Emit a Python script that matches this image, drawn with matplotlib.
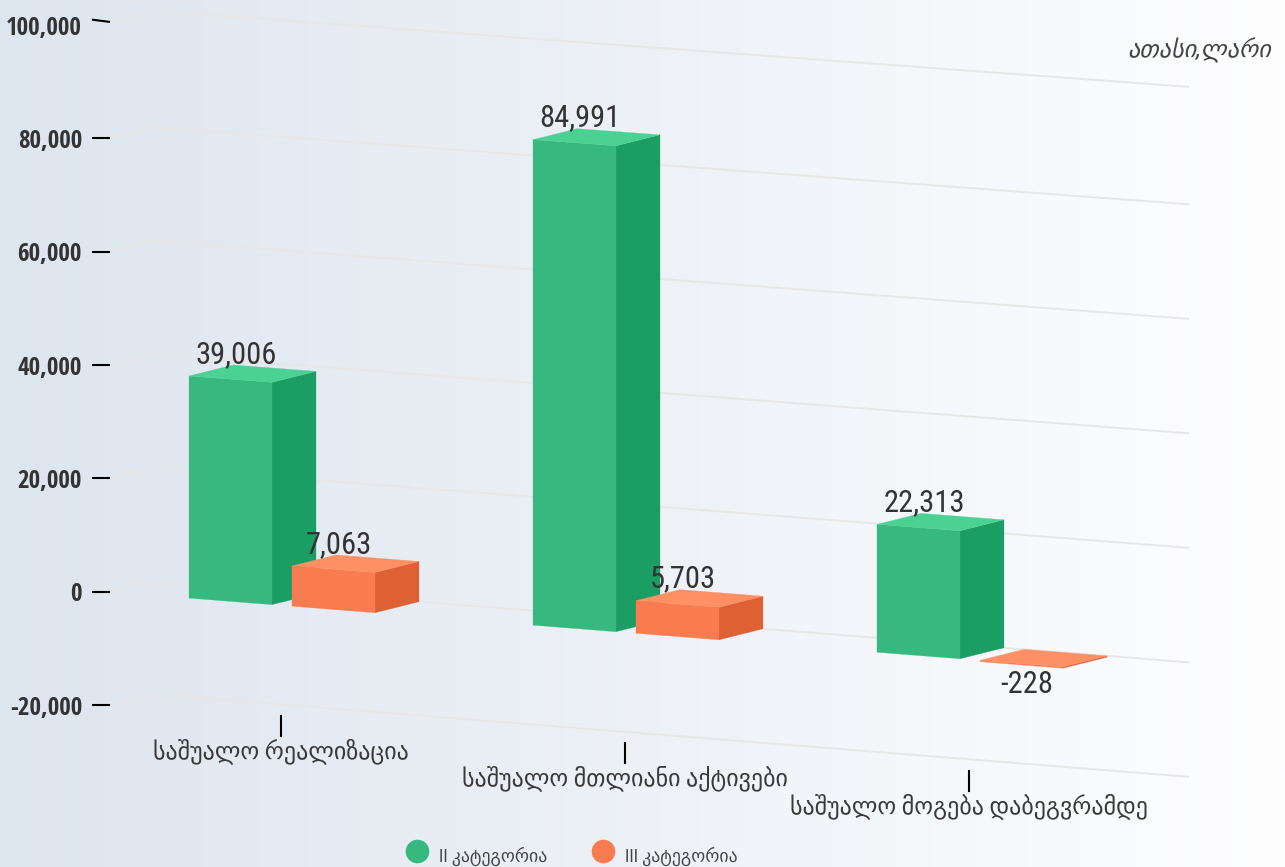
import numpy as np
import matplotlib
matplotlib.use("Agg")
import matplotlib.pyplot as plt
from matplotlib.patches import Polygon
from matplotlib.lines import Line2D
from matplotlib.font_manager import FontProperties

FONT = ['Roboto Condensed', 'Roboto', 'DejaVu Sans']
TICK_FONT = ['Open Sans Condensed', 'Roboto Condensed', 'Roboto', 'DejaVu Sans']
plt.rcParams['font.family'] = FONT

categories = ["საშუალო რეალიზაცია", "საშუალო მთლიანი აქტივები", "საშუალო მოგება დაბეგვრამდე"]
series_names = ["II კატეგორია", "III კატეგორია"]
series_ii = [39006, 84991, 22313]
series_iii = [7063, 5703, -228]
y_ticks = [-20000, 0, 20000, 40000, 60000, 80000, 100000]
unit_label = "ათასი,ლარი"

GREEN = dict(front="#36B87E", side="#1B9E64", top="#4CD194")
ORANGE = dict(front="#F97B50", side="#DE6035", top="#FF9063")

# pseudo-3D projection: u = category position, v = value, d = depth 0..1
X0, BAND, Y0, SCALE, AXIS_SCALE = 109.0, 344.0, 591.8, 5.69e-3, 5.67e-3
DX, DY = 44.0, 11.0


def project(u, v, d=0.0, scale=SCALE):
    x = X0 + BAND * u
    y = Y0 + (x - X0) * (0.0787 - 5.3e-8 * v) - scale * v
    return x + DX * d, y - DY * d


def axis_project(u, v, d=0.0):
    x, y = project(u, v, d, AXIS_SCALE)
    return x, y - 1.5e-4 * max(v - 80000, 0)


fig = plt.figure(figsize=(12.85, 8.67), dpi=100)
ax = fig.add_axes([0, 0, 1, 1])
grad = np.linspace(0, 1, 512)[None, :, None]
c0, c1 = np.array([221, 229, 238]) / 255, np.array([254, 254, 255]) / 255
ax.imshow(c0 + (c1 - c0) * grad, extent=(0, 1285, 867, 0), aspect='auto', zorder=0)
ax.set_xlim(0, 1285)
ax.set_ylim(867, 0)
ax.axis('off')

TXT = "#333333"
for t in y_ticks:
    pts = [axis_project(0, t, 0), axis_project(0, t, 1), axis_project(3.009, t, 1)]
    ax.plot(*zip(*pts), color="#E7E7E7", lw=1.4, zorder=1, solid_joinstyle='round')
    xe, ye = pts[0]
    top = t == max(y_ticks)
    ax.plot([xe - 16, xe], [ye - (2 if top else 0), ye], color="black", lw=1.5, zorder=2)
    ax.text(82, ye + (7 if top else 3), f"{t:,}", ha='right', va='center', fontsize=18,
            weight=300, color=TXT, family=TICK_FONT, zorder=5)


def box(u0, width, val, col):
    hi, lo = max(val, 0), min(val, 0)
    u1 = u0 + width
    front = [project(u0, hi), project(u1, hi), project(u1, lo), project(u0, lo)]
    side = [project(u1, hi), project(u1, hi, 1), project(u1, lo, 1), project(u1, lo)]
    top = [project(u0, hi), project(u1, hi), project(u1, hi, 1), project(u0, hi, 1)]
    for pts, c in ((side, col["side"]), (front, col["front"]), (top, col["top"])):
        ax.add_patch(Polygon(pts, closed=True, fc=c, ec=c, lw=0.2, zorder=3))


W = 83 / BAND
OFFS = [80 / BAND, 183 / BAND]
for i in range(len(categories)):
    box(i + OFFS[0], W, series_ii[i], GREEN)
    box(i + OFFS[1], W, series_iii[i], ORANGE)

for vals, off in ((series_ii, OFFS[0]), (series_iii, OFFS[1])):
    for i, v in enumerate(vals):
        x, y = project(i + off + W / 2, max(v, 0))
        ytext = y - 25 if v >= 0 else y + 21
        ax.text(x + 5.5, ytext, f"{v:,}", ha='center', va='center', fontsize=22, color=TXT, zorder=6)

for i, cat in enumerate(categories):
    x, y = project(i + 0.5, -20000)
    y -= 3.5
    ax.plot([x, x], [y, y + 20], color="black", lw=1.5, zorder=2)
    ax.text(x, y + 35, cat, ha='center', va='center', fontsize=17.3, color="#3a3a3a", zorder=5)

ax.text(1271, 50, unit_label, ha='right', va='center', fontsize=17.5, style='italic', color="#444444", zorder=5)

handles = [Line2D([], [], ls='none', marker='o', ms=17, mfc=c["front"], mec='none') for c in (GREEN, ORANGE)]
leg = ax.legend(handles, series_names, ncol=2, loc='center', bbox_to_anchor=(571, 852),
                bbox_transform=ax.transData, frameon=False, handlelength=1.4, handletextpad=0.54,
                columnspacing=2.4, prop=FontProperties(family=FONT, size=12.8), labelcolor="#444444")
for t in leg.get_texts():
    t.set_position((0, -4))

fig.savefig("out.png", dpi=100)
